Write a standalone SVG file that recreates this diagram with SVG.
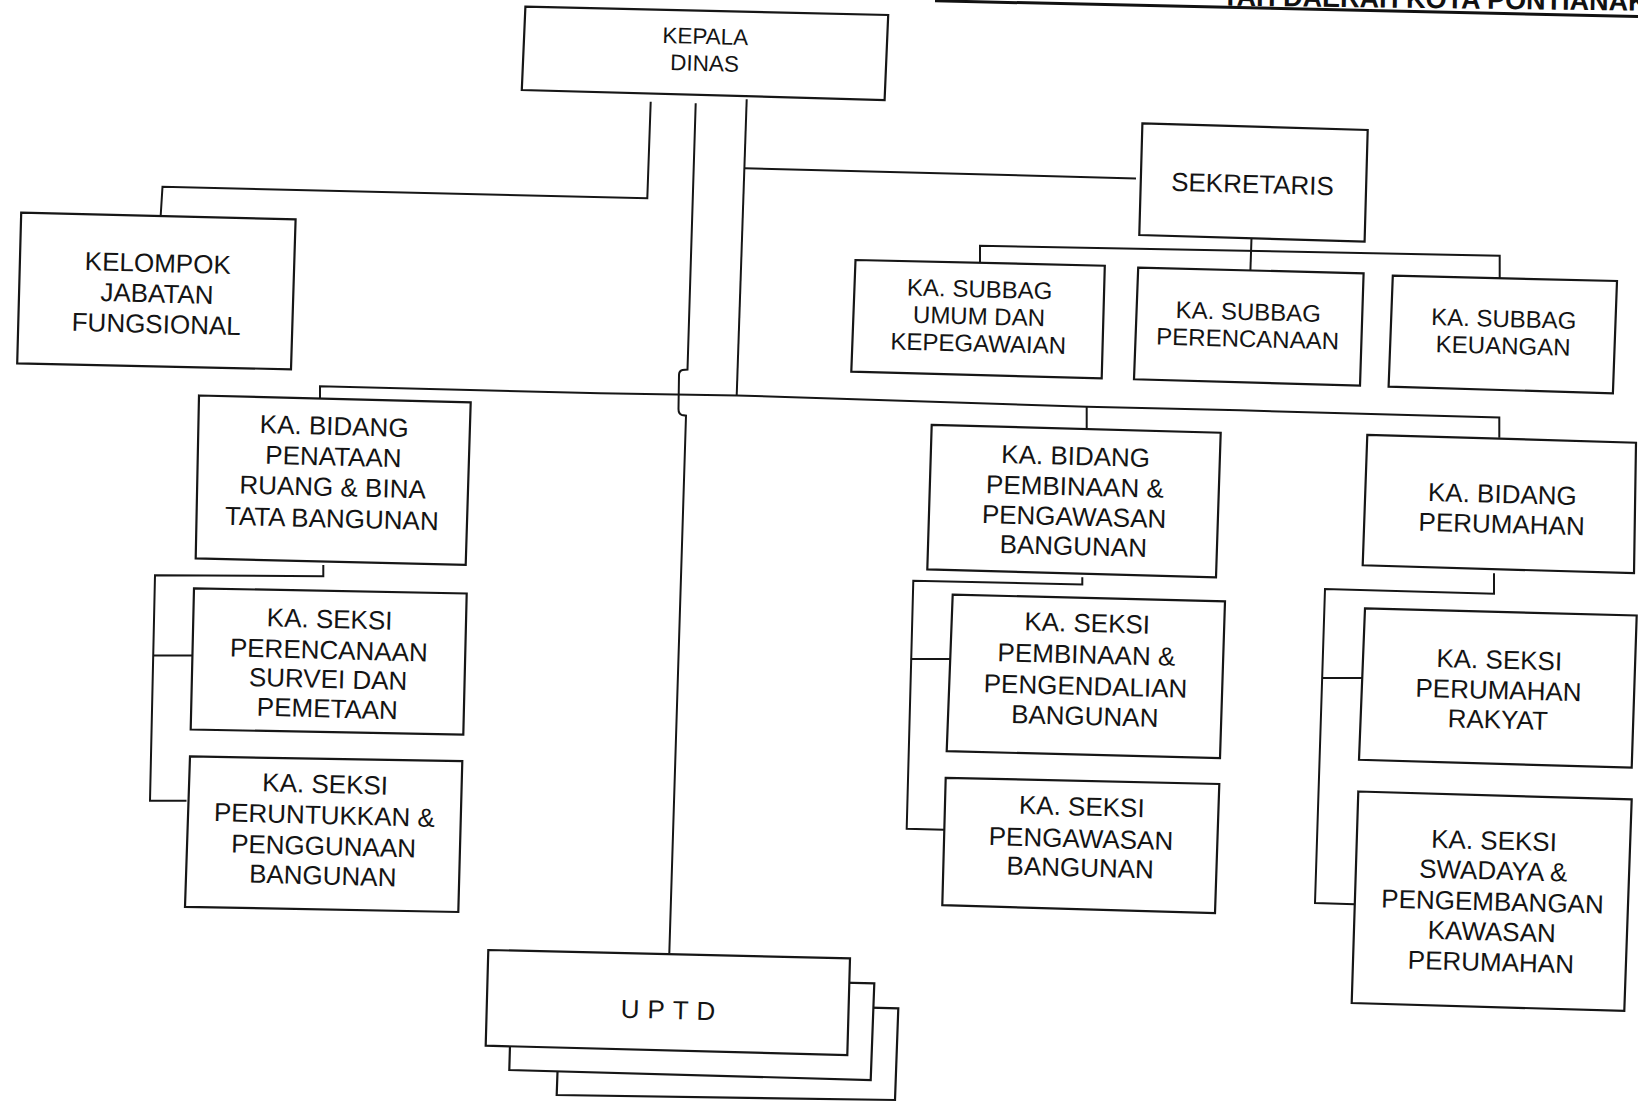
<svg xmlns="http://www.w3.org/2000/svg" width="1638" height="1103" viewBox="0 0 1638 1103">
  <style>
    .box { fill: #ffffff; stroke: #161616; stroke-width: 2.2; stroke-linejoin: miter; }
    .ln { fill: none; stroke: #161616; stroke-width: 2; stroke-linejoin: miter; }
    .lbl { font-family: "Liberation Sans", Arial, sans-serif; fill: #141414; text-anchor: middle;
           transform-box: fill-box; transform-origin: center; transform: rotate(1.5deg); }
    .f22 { font-size: 22.5px; }
    .f24 { font-size: 24px; }
    .f26 { font-size: 26px; }
    .uptd { font-size: 26px; letter-spacing: 8px; }
    .head { font-family: "Liberation Sans", Arial, sans-serif; font-weight: bold; font-size: 27px; fill: #111111; }
  </style>

  <rect x="0" y="0" width="1638" height="1103" fill="#ffffff"/>

  <!-- title strip, cut by the top edge of the sheet -->
  <g id="header">
    <line x1="935" y1="0.8" x2="1638" y2="16.5" stroke="#111111" stroke-width="3"/>
    <text class="head" x="1222" y="5.5" transform="rotate(0.7 1222 5.5)">TAH DAERAH KOTA PONTIANAK</text>
  </g>

  <!-- connecting lines -->
  <g id="connectors">
    <!-- head to functional group -->
    <path class="ln" d="M650.7,101.7 L647.3,198.3 L162.5,186.7 L160.7,215.5"/>
    <!-- trunk down to UPTD, jogging around the main bus -->
    <path class="ln" d="M695.7,103.3 L687.5,369.5 L682.5,370 Q679,371 679,375 L678.5,409 Q678.5,414 682,415 L686,415.7 L669.3,953.5"/>
    <!-- trunk to secretary and main bus -->
    <path class="ln" d="M746.7,99.3 L736.7,395.5"/>
    <path class="ln" d="M744.5,168.3 L1136,178.4"/>
    <!-- main bus to the three divisions -->
    <path class="ln" d="M320,398.5 L320,386.2 L600,393.3 L737,395.5 L1086.7,406.8 L1240,410.3 L1499.3,417.5 L1499.3,437.8"/>
    <path class="ln" d="M1086.7,406.8 L1086.7,428.8"/>
    <!-- secretary to sub-sections -->
    <path class="ln" d="M980,262.8 L980,245.7 L1499.7,255.7 L1499.7,278.3"/>
    <path class="ln" d="M1251.5,238.3 L1250.4,270.5"/>
    <!-- left division sections -->
    <path class="ln" d="M323.3,564.9 L323.3,576.3 L155,575.2 L150,800.8 L186.5,800.8"/>
    <path class="ln" d="M153.3,655.5 L192.3,655.5"/>
    <!-- middle division sections -->
    <path class="ln" d="M1082.3,577.3 L1082.3,584.5 L913.3,580.8 L906.7,828.7 L944.3,829.8"/>
    <path class="ln" d="M910.8,659 L950.2,659"/>
    <!-- right division sections -->
    <path class="ln" d="M1494,573.2 L1494,593.8 L1325,589 L1315,903 L1354.8,904.2"/>
    <path class="ln" d="M1322.5,678 L1362.2,678"/>
  </g>

  <g id="kepala-dinas">
    <polygon class="box" points="525.4,6.7 888.2,15 884.6,100 521.8,90"/>
    <text class="lbl f22"><tspan x="705" y="44">KEPALA</tspan><tspan x="705" y="71">DINAS</tspan></text>
  </g>

  <g id="kelompok-jabatan-fungsional">
    <polygon class="box" points="21.2,212.7 295.6,219.3 291,369.3 17.2,363.3"/>
    <text class="lbl f26"><tspan x="157" y="272">KELOMPOK</tspan><tspan x="157" y="302.5">JABATAN</tspan><tspan x="157" y="333">FUNGSIONAL</tspan></text>
  </g>

  <g id="sekretaris">
    <polygon class="box" points="1142.4,123.3 1367.7,130 1364.6,241.7 1139.3,235"/>
    <text class="lbl f26" x="1252.5" y="193">SEKRETARIS</text>
  </g>

  <g id="subbag-umum">
    <polygon class="box" points="855.5,260 1104.8,265.7 1101.7,378.3 851.3,371.7"/>
    <text class="lbl f24"><tspan x="979" y="297.3">KA. SUBBAG</tspan><tspan x="979" y="324.5">UMUM DAN</tspan><tspan x="979" y="351.7">KEPEGAWAIAN</tspan></text>
  </g>

  <g id="subbag-perencanaan">
    <polygon class="box" points="1138.2,267.7 1363.6,273.3 1360,385.7 1134,379.3"/>
    <text class="lbl f24"><tspan x="1248" y="320">KA. SUBBAG</tspan><tspan x="1248" y="347">PERENCANAAN</tspan></text>
  </g>

  <g id="subbag-keuangan">
    <polygon class="box" points="1392.8,275.7 1617,281 1612.9,393.3 1388.6,386.7"/>
    <text class="lbl f24"><tspan x="1503.5" y="327">KA. SUBBAG</tspan><tspan x="1503.5" y="354">KEUANGAN</tspan></text>
  </g>

  <g id="bidang-penataan-ruang">
    <polygon class="box" points="199,395.5 470.7,402.4 465.7,564.9 195.7,558.4"/>
    <text class="lbl f26"><tspan x="333" y="435">KA. BIDANG</tspan><tspan x="333" y="465.5">PENATAAN</tspan><tspan x="333" y="496">RUANG &amp; BINA</tspan><tspan x="333" y="527.5">TATA BANGUNAN</tspan></text>
  </g>

  <g id="seksi-perencanaan-survei">
    <polygon class="box" points="194,588.3 466.7,593.5 463.3,734.7 190.7,729.5"/>
    <text class="lbl f26"><tspan x="328.5" y="628">KA. SEKSI</tspan><tspan x="328.5" y="659">PERENCANAAN</tspan><tspan x="328.5" y="688">SURVEI DAN</tspan><tspan x="328.5" y="717.5">PEMETAAN</tspan></text>
  </g>

  <g id="seksi-peruntukkan">
    <polygon class="box" points="190,756.4 462.3,761.2 458.3,912 185,906.9"/>
    <text class="lbl f26"><tspan x="324" y="793">KA. SEKSI</tspan><tspan x="324" y="824">PERUNTUKKAN &amp;</tspan><tspan x="324" y="855">PENGGUNAAN</tspan><tspan x="324" y="884.5">BANGUNAN</tspan></text>
  </g>

  <g id="bidang-pembinaan-pengawasan">
    <polygon class="box" points="931.7,424.8 1220.7,432.7 1216,577.3 927.3,569.4"/>
    <text class="lbl f26"><tspan x="1074.5" y="465">KA. BIDANG</tspan><tspan x="1074.5" y="495.5">PEMBINAAN &amp;</tspan><tspan x="1074.5" y="525.5">PENGAWASAN</tspan><tspan x="1074.5" y="555">BANGUNAN</tspan></text>
  </g>

  <g id="seksi-pembinaan-pengendalian">
    <polygon class="box" points="952.7,594.6 1225,601.4 1220,758.1 946.7,751.2"/>
    <text class="lbl f26"><tspan x="1086" y="632">KA. SEKSI</tspan><tspan x="1086" y="663.5">PEMBINAAN &amp;</tspan><tspan x="1086" y="695">PENGENDALIAN</tspan><tspan x="1086" y="725">BANGUNAN</tspan></text>
  </g>

  <g id="seksi-pengawasan">
    <polygon class="box" points="945.7,777.8 1219.3,784 1215,913.1 942.3,905.2"/>
    <text class="lbl f26"><tspan x="1081" y="815.5">KA. SEKSI</tspan><tspan x="1081" y="847.5">PENGAWASAN</tspan><tspan x="1081" y="876.5">BANGUNAN</tspan></text>
  </g>

  <g id="bidang-perumahan">
    <polygon class="box" points="1367.3,434.8 1636,442.7 1634,573.2 1362.7,565.3"/>
    <text class="lbl f26"><tspan x="1502" y="503">KA. BIDANG</tspan><tspan x="1502" y="533">PERUMAHAN</tspan></text>
  </g>

  <g id="seksi-perumahan-rakyat">
    <polygon class="box" points="1365,608.4 1636.7,615.5 1631.7,767.7 1359,759.8"/>
    <text class="lbl f26"><tspan x="1498.5" y="668.7">KA. SEKSI</tspan><tspan x="1498.5" y="699">PERUMAHAN</tspan><tspan x="1498.5" y="728.5">RAKYAT</tspan></text>
  </g>

  <g id="seksi-swadaya">
    <polygon class="box" points="1358.3,791.5 1631.7,799.4 1624.3,1010.9 1351.7,1003"/>
    <text class="lbl f26"><tspan x="1492.5" y="849.5">KA. SEKSI</tspan><tspan x="1492.5" y="879.5">SWADAYA &amp;</tspan><tspan x="1492.5" y="910.5">PENGEMBANGAN</tspan><tspan x="1492.5" y="940.5">KAWASAN</tspan><tspan x="1492.5" y="971">PERUMAHAN</tspan></text>
  </g>

  <!-- stacked cards for the technical units -->
  <g id="uptd">
    <polygon class="box" points="560,1000 898.3,1008.3 895,1100 556.7,1095"/>
    <polygon class="box" points="512,975 874.3,983.3 870.7,1080 509.3,1070"/>
    <polygon class="box" points="488.3,950 850,958.3 847.3,1055 485.7,1045.7"/>
    <text class="lbl uptd" x="672" y="1019">UPTD</text>
  </g>
</svg>
